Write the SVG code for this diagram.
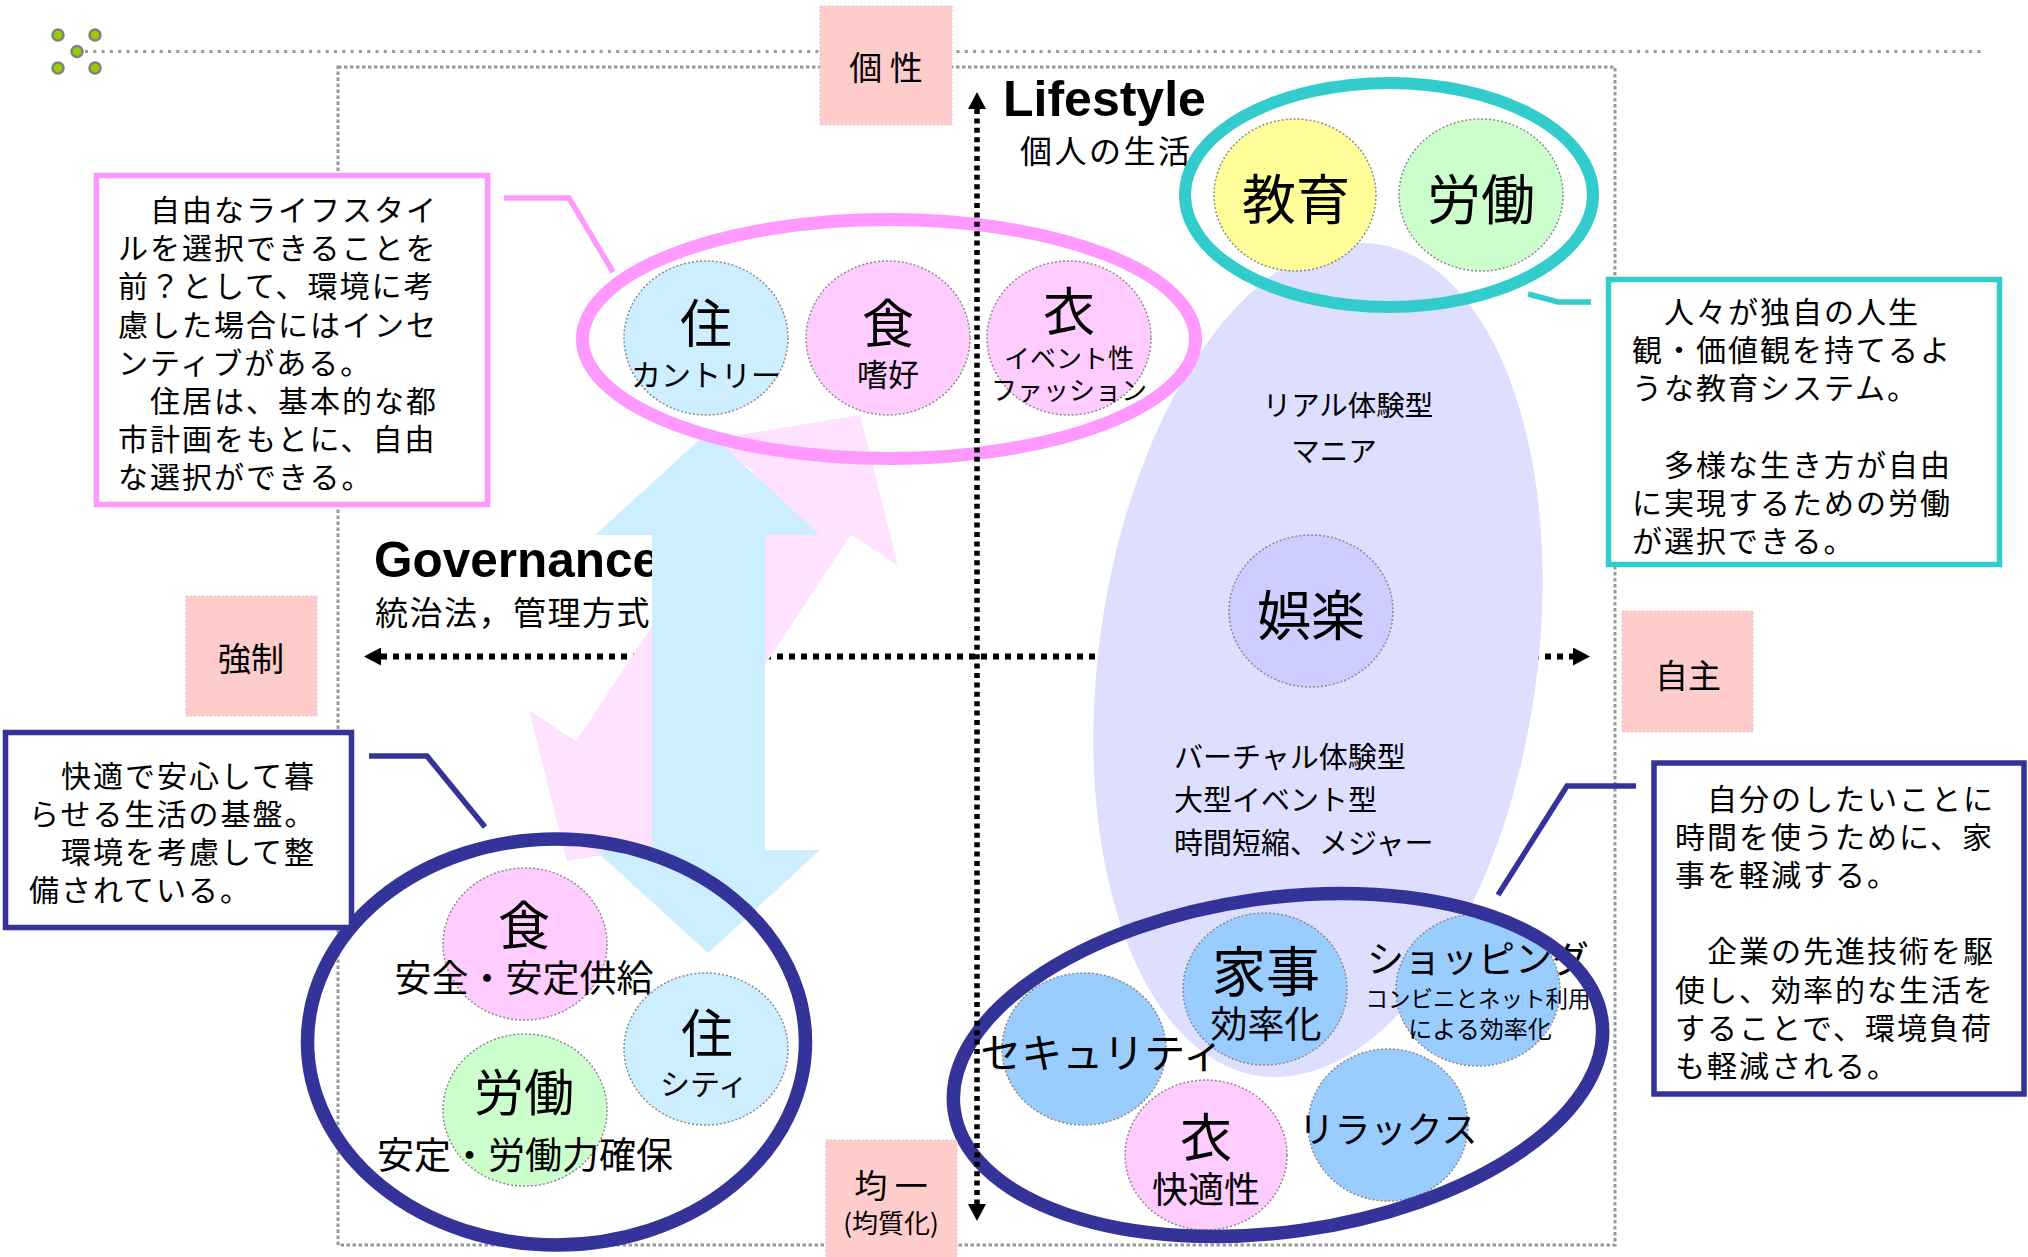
<svg xmlns="http://www.w3.org/2000/svg" width="2028" height="1257" viewBox="0 0 2028 1257">
<defs>
<style>
text{font-family:"Noto Sans CJK JP","Noto Sans",sans-serif;fill:#000}
.lat{font-family:"Liberation Sans",Arial,sans-serif;font-weight:bold}
.c{text-anchor:middle}
.body{font-size:30px;letter-spacing:2px}
.b{stroke:#8a8a8a;stroke-width:1.5;stroke-dasharray:2 2}
.lb{fill:#cceeff}.pk{fill:#ffccff}.bl{fill:#99ccff}.ye{fill:#ffff99}.gr{fill:#ccffcc}.lv{fill:#ccccff}
.ring{fill:none}
.tag{fill:#ffcccc;stroke:#e8c4c4;stroke-width:1;stroke-dasharray:2 2}
.call{fill:#fff;stroke-width:5.5}
.ptr{fill:none;stroke-width:5.5}
.axis{fill:none;stroke:#000}
.dot{fill:#99cc00;stroke:#808080;stroke-width:2.5}
</style>
<marker id="ah" viewBox="0 0 17 18" refX="0" refY="9" markerWidth="17" markerHeight="18" markerUnits="userSpaceOnUse" orient="auto-start-reverse">
<path d="M0,0 L17,9 L0,18 z" fill="#000"/>
</marker>
</defs>
<rect x="0" y="0" width="2028" height="1257" fill="#fff"/>

<g id="decoration">
<line x1="85" y1="51.5" x2="1984" y2="51.5" stroke="#999" stroke-width="3" stroke-dasharray="3 5.3"/>
<circle class="dot" cx="58" cy="35" r="5.5"/>
<circle class="dot" cx="95" cy="35" r="5.5"/>
<circle class="dot" cx="77" cy="51.5" r="5.5"/>
<circle class="dot" cx="58" cy="68" r="5.5"/>
<circle class="dot" cx="95" cy="68" r="5.5"/>
<rect x="338" y="67" width="1277" height="1178" fill="none" stroke="#999" stroke-width="3" stroke-dasharray="3.5 2.5"/>
</g>

<g id="titles">
<text class="lat" x="1003" y="116" font-size="50">Lifestyle</text>
<text x="1020" y="163" font-size="32" letter-spacing="2.5">個人の生活</text>
<text class="lat" x="374" y="577" font-size="49.5">Governance</text>
<text x="375" y="624.5" font-size="33" letter-spacing="1.5">統治法，管理方式</text>
</g>

<g class="connectors" id="axis-horizontal">
<line class="axis" x1="381" y1="656.5" x2="1573" y2="656.5" stroke-width="6" stroke-dasharray="6 6" marker-start="url(#ah)" marker-end="url(#ah)"/>
</g>

<g id="big-arrows">
<polygon id="arrow-pink" fill="#ffe2fd" points="860,415 897.7,565.4 850.9,534.6 673.1,805 719.9,835.8 567,861 529.3,710.6 576.1,741.4 753.9,471 707.1,440.2"/>
<polygon id="arrow-blue" fill="#cceeff" points="708,432 820,535 765,535 765,850 820,850 708,953 595,850 652,850 652,535 595,535"/>
</g>

<g id="lifestyle-area">
<ellipse cx="1318" cy="660" rx="219" ry="420" fill="#dedeff" transform="rotate(8 1318 660)"/>
<text class="c" x="1348" y="416" font-size="28.5">リアル体験型</text>
<text class="c" x="1334" y="462" font-size="28.5">マニア</text>
<text x="1174" y="768" font-size="29">バーチャル体験型</text>
<text x="1174" y="811" font-size="29">大型イベント型</text>
<text x="1174" y="853.5" font-size="29">時間短縮、メジャー</text>
</g>

<g id="node-goraku">
<ellipse class="b lv" cx="1311" cy="611" rx="82" ry="76"/>
<text class="c" x="1311" y="635.5" font-size="54">娯楽</text>
</g>

<g id="node-top-ju">
<ellipse class="b lb" cx="706" cy="338" rx="82" ry="77"/>
<text class="c" x="706" y="343" font-size="52">住</text>
<text class="c" x="706" y="386" font-size="30">カントリー</text>
</g>
<g id="node-top-shoku">
<ellipse class="b pk" cx="888" cy="338" rx="82" ry="77"/>
<text class="c" x="888" y="343" font-size="52">食</text>
<text class="c" x="888" y="386" font-size="31">嗜好</text>
</g>
<g id="node-top-i">
<ellipse class="b pk" cx="1069" cy="338" rx="82" ry="77"/>
<text class="c" x="1069" y="331" font-size="52">衣</text>
<text class="c" x="1069" y="368" font-size="26">イベント性</text>
<text class="c" x="1069" y="400" font-size="26">ファッション</text>
</g>
<g id="group-individual">
<ellipse class="ring" cx="889" cy="339" rx="306.5" ry="119.5" stroke="#ff99ff" stroke-width="13"/>
</g>

<g id="node-kyoiku">
<ellipse class="b ye" cx="1295" cy="195" rx="81" ry="76"/>
<text class="c" x="1296" y="220" font-size="54">教育</text>
</g>
<g id="node-rodo-top">
<ellipse class="b gr" cx="1481" cy="195" rx="82" ry="76"/>
<text class="c" x="1481" y="220" font-size="54">労働</text>
</g>
<g id="group-education">
<ellipse class="ring" cx="1389" cy="195" rx="204" ry="112" stroke="#33cccc" stroke-width="12"/>
</g>

<g id="node-left-shoku">
<ellipse class="b pk" cx="525" cy="944" rx="82" ry="76"/>
<text class="c" x="524" y="945" font-size="52">食</text>
<text class="c" x="524" y="992" font-size="37">安全・安定供給</text>
</g>
<g id="node-left-ju">
<ellipse class="b lb" cx="706" cy="1049" rx="82" ry="76"/>
<text class="c" x="707" y="1053" font-size="52">住</text>
<text class="c" x="704" y="1094.5" font-size="30">シティ</text>
</g>
<g id="node-left-rodo">
<ellipse class="b gr" cx="525" cy="1110" rx="82" ry="76"/>
<text class="c" x="524" y="1111" font-size="50">労働</text>
<text class="c" x="525" y="1169" font-size="37">安定・労働力確保</text>
</g>
<g id="group-base">
<ellipse class="ring" cx="556.5" cy="1042" rx="249" ry="203" stroke="#333399" stroke-width="13.5"/>
</g>

<g id="node-security">
<ellipse class="b bl" cx="1084" cy="1049" rx="82" ry="76"/>
</g>
<g id="node-kaji">
<ellipse class="b bl" cx="1265" cy="989" rx="82" ry="76"/>
<text class="c" x="1266" y="991.5" font-size="54">家事</text>
<text class="c" x="1266" y="1038" font-size="37">効率化</text>
</g>
<g id="node-shopping">
<ellipse class="b bl" cx="1478" cy="990" rx="82" ry="76"/>
<text class="c" x="1478" y="973" font-size="37">ショッピング</text>
<text class="c" x="1478" y="1006.5" font-size="22.5">コンビニとネット利用</text>
<text class="c" x="1480" y="1038" font-size="24">による効率化</text>
</g>
<g id="node-relax">
<ellipse class="b bl" cx="1388" cy="1125" rx="80" ry="76"/>
<text class="c" x="1388" y="1142.5" font-size="36">リラックス</text>
</g>
<g id="node-right-i">
<ellipse class="b pk" cx="1206" cy="1155" rx="81" ry="75"/>
<text class="c" x="1206" y="1157" font-size="52">衣</text>
<text class="c" x="1206" y="1202.5" font-size="36">快適性</text>
</g>
<g id="security-label">
<text class="c" x="1102" y="1067.5" font-size="41">セキュリティ</text>
</g>
<g id="group-efficiency">
<ellipse class="ring" cx="1278" cy="1065" rx="327" ry="167" stroke="#333399" stroke-width="13.5" transform="rotate(-8 1278 1065)"/>
</g>

<g id="tag-kosei">
<rect class="tag" x="820" y="6" width="132" height="119"/>
<text class="c" x="886" y="79.5" font-size="33">個 性</text>
</g>
<g id="tag-kyosei">
<rect class="tag" x="186" y="596" width="131" height="120"/>
<text class="c" x="251" y="670.5" font-size="33">強制</text>
</g>
<g id="tag-jishu">
<rect class="tag" x="1622" y="611" width="131" height="121"/>
<text class="c" x="1688" y="687.5" font-size="33">自主</text>
</g>
<g id="tag-kinitsu">
<rect class="tag" x="826" y="1140" width="131" height="125"/>
<text class="c" x="891" y="1198" font-size="33">均 一</text>
<text class="c" x="891" y="1232.5" font-size="26">(均質化)</text>
</g>

<g id="callout-individual">
<rect class="call" x="96.5" y="175.5" width="391" height="329" stroke="#ff99ff"/>
<text class="body" x="118" y="221">　自由なライフスタイ</text>
<text class="body" x="118" y="259.2">ルを選択できることを</text>
<text class="body" x="118" y="297.4">前？として、環境に考</text>
<text class="body" x="118" y="335.6">慮した場合にはインセ</text>
<text class="body" x="118" y="373.8">ンティブがある。</text>
<text class="body" x="118" y="412">　住居は、基本的な都</text>
<text class="body" x="118" y="450.2">市計画をもとに、自由</text>
<text class="body" x="118" y="488.4">な選択ができる。</text>
</g>
<g id="callout-education">
<rect class="call" x="1608.5" y="279.5" width="391" height="285" stroke="#33cccc"/>
<text class="body" x="1632" y="322.5">　人々が独自の人生</text>
<text class="body" x="1632" y="360.8">観・価値観を持てるよ</text>
<text class="body" x="1632" y="399.1">うな教育システム。</text>
<text class="body" x="1632" y="475.7">　多様な生き方が自由</text>
<text class="body" x="1632" y="514">に実現するための労働</text>
<text class="body" x="1632" y="552.3">が選択できる。</text>
</g>
<g id="callout-base">
<rect class="call" x="5.5" y="732.5" width="346" height="195" stroke="#333399"/>
<text class="body" x="29" y="786.5">　快適で安心して暮</text>
<text class="body" x="29" y="824.8">らせる生活の基盤。</text>
<text class="body" x="29" y="863.1">　環境を考慮して整</text>
<text class="body" x="29" y="901.4">備されている。</text>
</g>
<g id="callout-efficiency">
<rect class="call" x="1654" y="763" width="370" height="331" stroke="#333399"/>
<text class="body" x="1675" y="809.5">　自分のしたいことに</text>
<text class="body" x="1675" y="847.7">時間を使うために、家</text>
<text class="body" x="1675" y="885.9">事を軽減する。</text>
<text class="body" x="1675" y="962.3">　企業の先進技術を駆</text>
<text class="body" x="1675" y="1000.5">使し、効率的な生活を</text>
<text class="body" x="1675" y="1038.7">することで、環境負荷</text>
<text class="body" x="1675" y="1076.9">も軽減される。</text>
</g>

<g class="connectors" id="connectors">
<line class="axis" x1="977" y1="109" x2="977" y2="1204" stroke-width="5.5" stroke-dasharray="5 4.4" marker-start="url(#ah)" marker-end="url(#ah)"/>
<polyline class="ptr" stroke="#ff99ff" points="504,198 569,198 613,272"/>
<polyline class="ptr" stroke="#33cccc" points="1528,294 1558,302 1591,302"/>
<polyline class="ptr" stroke="#333399" points="369,756 427,756 485,827"/>
<polyline class="ptr" stroke="#333399" points="1636,786 1567,786 1498,895"/>
</g>
</svg>
